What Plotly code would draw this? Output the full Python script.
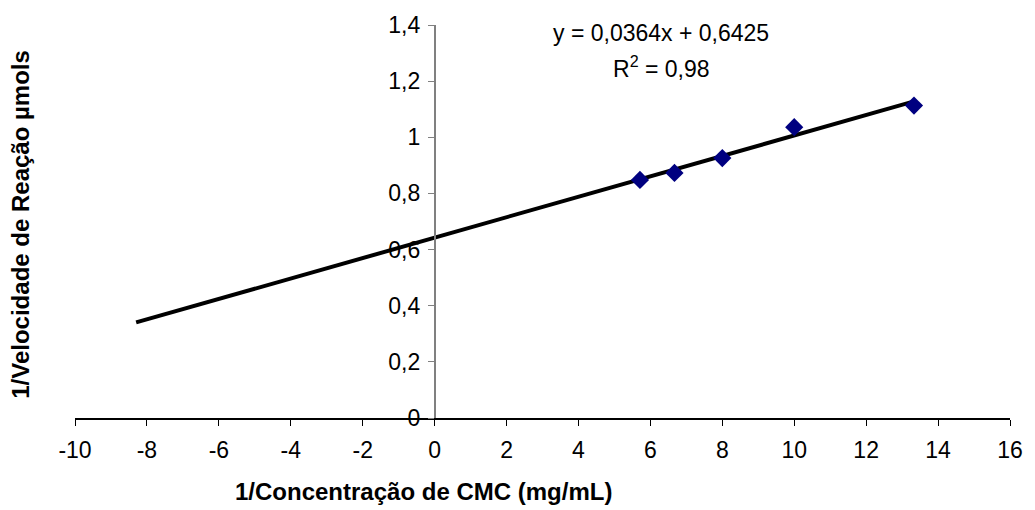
import plotly.graph_objects as go

# Data (Lineweaver-Burk)
inv_conc = [5.71, 6.67, 8.0, 10.0, 13.33]
inv_vel = [0.848, 0.873, 0.926, 1.036, 1.113]
slope = 0.0364
intercept = 0.6425
r2 = 0.98
trend_x = [-8.3, 13.33]
trend_y = [slope * x + intercept for x in trend_x]

x_ticks = list(range(-10, 17, 2))
x_ticktext = [str(v) for v in x_ticks]
y_ticks = [0, 0.2, 0.4, 0.6, 0.8, 1.0, 1.2, 1.4]
y_ticktext = ["0", "0,2", "0,4", "0,6", "0,8", "1", "1,2", "1,4"]

FONT = "Liberation Sans, Arial, sans-serif"

fig = go.Figure()
fig.add_trace(go.Scatter(x=trend_x, y=trend_y, mode="lines",
                         line=dict(color="black", width=4), showlegend=False,
                         hoverinfo="skip"))
fig.add_trace(go.Scatter(x=inv_conc, y=inv_vel, mode="markers",
                         marker=dict(symbol="diamond", color="#000080", size=14,
                                     line=dict(width=0)),
                         showlegend=False))

fmt = lambda v, d: f"{v:.{d}f}".replace(".", ",")
fig.add_annotation(x=6.3, y=1.37, xref="x", yref="y", xanchor="center", yanchor="middle",
                   text=f"y = {fmt(slope,4)}x + {fmt(intercept,4)}", showarrow=False,
                   font=dict(family=FONT, size=23, color="black"))
fig.add_annotation(x=6.3, y=1.25, xref="x", yref="y", xanchor="center", yanchor="middle",
                   text=f"R<sup>2</sup> = {fmt(r2,2)}", showarrow=False,
                   font=dict(family=FONT, size=23, color="black"))

fig.update_layout(
    width=1035, height=510,
    margin=dict(l=75, r=20, t=22, b=92),
    paper_bgcolor="white", plot_bgcolor="white",
    font=dict(family=FONT, size=22, color="black"),
    xaxis=dict(range=[-10, 16], tickvals=x_ticks, ticktext=x_ticktext,
               ticks="outside", ticklen=6, ticklabelstandoff=5,
               tickcolor="black", showline=True, linecolor="black", linewidth=1.5,
               showgrid=False, zeroline=False, mirror=False,
               tickfont=dict(family=FONT, size=23)),
    yaxis=dict(range=[0, 1.4], tickvals=y_ticks, ticktext=y_ticktext,
               ticks="outside", ticklen=6, ticklabelstandoff=3,
               tickcolor="#808080", showline=True, linecolor="#808080", linewidth=1.5,
               showgrid=False, zeroline=False, anchor="free", position=10 / 26,
               tickfont=dict(family=FONT, size=23)),
)

fig.add_annotation(x=(425 - 75) / 940, y=-(492 - 418) / 396, xref="paper", yref="paper",
                   text="<b>1/Concentração de CMC (mg/mL)</b>", showarrow=False,
                   font=dict(family=FONT, size=24, color="black"),
                   xanchor="center", yanchor="middle")

fig.add_annotation(x=-(75 - 20) / 940, y=(418 - 223) / 396, xref="paper", yref="paper",
                   textangle=-90,
                   text="<b>1/Velocidade de Reação µmols</b>", showarrow=False,
                   font=dict(family=FONT, size=24, color="black"),
                   xanchor="center", yanchor="middle")

fig.write_html("out.html")
